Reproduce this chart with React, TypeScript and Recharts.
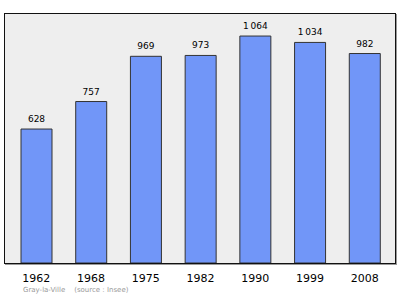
import React from 'react';
import { BarChart, Bar, XAxis, YAxis, CartesianGrid, LabelList } from 'recharts';

const years = ['1962', '1968', '1975', '1982', '1990', '1999', '2008'];
const population = [628, 757, 969, 973, 1064, 1034, 982];

const data = years.map((y, i) => ({ year: y, pop: population[i] }));

const fmt = (v: any) => {
  const n = Number(v);
  if (n >= 1000) {
    const s = String(n);
    return s.slice(0, s.length - 3) + '\u2009' + s.slice(-3);
  }
  return String(n);
};

export default function App() {
  return (
    <div style={{ position: 'absolute', left: 0, top: 0, width: 400, height: 299, background: '#fff', fontFamily: 'DejaVu Sans' }}>
      <BarChart width={400} height={299} data={data} margin={{ top: 13, right: 5, left: 4, bottom: 0 }} barCategoryGap={0}>
        <CartesianGrid fill="#eeeeee" horizontal={false} vertical={false} />
        <XAxis
          dataKey="year"
          height={36}
          padding={{ left: 5, right: 3 }}
          axisLine={false}
          tickLine={false}
          tickMargin={5}
          tick={{ fontSize: 11, fill: '#000', fontFamily: 'DejaVu Sans' }}
          interval={0}
        />
        <YAxis hide domain={[0, 1172]} width={0} />
        <Bar dataKey="pop" fill="#7196f8" stroke="#333" strokeWidth={1} barSize={31} isAnimationActive={false}>
          <LabelList dataKey="pop" position="top" offset={7} formatter={fmt} style={{ fontSize: 9, fill: '#000', fontFamily: 'DejaVu Sans' }} />
        </Bar>
      </BarChart>
      <div style={{ position: 'absolute', left: 4, top: 13, width: 390, height: 249, border: '1px solid #111', boxShadow: '1px 1px 0 #999', pointerEvents: 'none' }} />
      <div style={{ position: 'absolute', left: 23, top: 286, fontSize: 7, color: '#999', fontFamily: 'DejaVu Sans', whiteSpace: 'pre' }}>
        {'Gray-la-Ville    (source : Insee)'}
      </div>
    </div>
  );
}
